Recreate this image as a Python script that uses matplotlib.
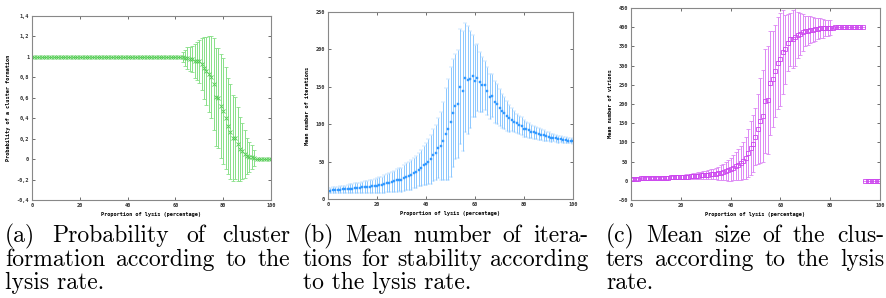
import matplotlib
matplotlib.use("Agg")
import matplotlib.pyplot as plt
import numpy as np
from matplotlib.ticker import FuncFormatter

# ---------------- data ----------------
x_a = list(range(0, 101))
mean_a = [1.0, 1.0, 1.0, 1.0, 1.0, 1.0, 1.0, 1.0, 1.0, 1.0,
          1.0, 1.0, 1.0, 1.0, 1.0, 1.0, 1.0, 1.0, 1.0, 1.0,
          1.0, 1.0, 1.0, 1.0, 1.0, 1.0, 1.0, 1.0, 1.0, 1.0,
          1.0, 1.0, 1.0, 1.0, 1.0, 1.0, 1.0, 1.0, 1.0, 1.0,
          1.0, 1.0, 1.0, 1.0, 1.0, 1.0, 1.0, 1.0, 1.0, 1.0,
          1.0, 1.0, 1.0, 1.0, 1.0, 1.0, 1.0, 1.0, 1.0, 1.0,
          1.0, 1.0, 1.0,
          1.0, 0.99, 0.99, 0.98, 0.98, 0.96, 0.96, 0.955, 0.93, 0.89,
          0.86, 0.83, 0.80, 0.73, 0.61, 0.60, 0.52, 0.47, 0.40, 0.32,
          0.27, 0.21, 0.21, 0.15, 0.10, 0.08, 0.05, 0.03, 0.02, 0.02,
          0.01,
          0.0, 0.0, 0.0, 0.0, 0.0, 0.0, 0.0]
err_a = [0.0, 0.0, 0.0, 0.0, 0.0, 0.0, 0.0, 0.0, 0.0, 0.0,
         0.0, 0.0, 0.0, 0.0, 0.0, 0.0, 0.0, 0.0, 0.0, 0.0,
         0.0, 0.0, 0.0, 0.0, 0.0, 0.0, 0.0, 0.0, 0.0, 0.0,
         0.0, 0.0, 0.0, 0.0, 0.0, 0.0, 0.0, 0.0, 0.0, 0.0,
         0.0, 0.0, 0.0, 0.0, 0.0, 0.0, 0.0, 0.0, 0.0, 0.0,
         0.0, 0.0, 0.0, 0.0, 0.0, 0.0, 0.0, 0.0, 0.0, 0.0,
         0.0, 0.0, 0.0,
         0.05, 0.08, 0.11, 0.12, 0.13, 0.17, 0.19, 0.21, 0.25, 0.30,
         0.33, 0.37, 0.40, 0.45, 0.48, 0.49, 0.51, 0.52, 0.50, 0.47,
         0.46, 0.42, 0.40, 0.36, 0.31, 0.27, 0.23, 0.18, 0.15, 0.12,
         0.08,
         0.0, 0.0, 0.0, 0.0, 0.0, 0.0, 0.0]

x_b = list(range(0, 101))
mean_b = [11, 11, 11.5, 12, 12, 12.5, 13, 13, 13.5, 14,
          14, 14.5, 15, 15, 15.5, 16, 16, 16.5, 17, 17.5,
          18, 18.5, 19, 20, 21, 22, 23, 24, 25, 26,
          26, 28, 30, 31, 32, 35, 36, 39, 42, 45,
          47, 50, 53, 59, 62, 68, 71, 78, 87, 93,
          103, 115, 124, 127, 150, 144, 162, 159, 160, 164,
          158, 162, 156, 153, 152, 144, 137, 138, 130, 127,
          122, 118, 115, 111, 108, 106, 103, 101, 99, 97,
          94, 93, 92, 90, 89, 88, 87, 86, 85, 84,
          83, 82, 82, 81, 80, 80, 79, 79, 78, 78,
          77]
err_b = [3.5, 3.5, 4, 4, 4.5, 4.5, 5, 5, 5.5, 6,
         6, 6.5, 7, 7, 7.5, 8, 8, 8.5, 9, 9.5,
         10, 10.5, 11, 12, 12, 13, 13, 14, 15, 15,
         16, 17, 18, 19, 20, 20, 21, 22, 24, 26,
         28, 30, 33, 35, 37, 40, 45, 52, 62, 68,
         74, 72, 70, 72, 77, 80, 73, 72, 65, 55,
         48, 45, 40, 37, 33, 32, 30, 29, 28, 27,
         25, 23, 21, 20, 18, 15, 14, 13, 12, 12,
         11, 10, 10, 9, 9, 8, 8, 7, 7, 6,
         6, 5.5, 5, 5, 4.5, 4, 4, 3.5, 3.5, 3,
         3]

x_c = list(range(0, 101))
mean_c = [5, 5, 5, 5, 6, 6, 6, 6, 7, 7,
          7, 7, 8, 8, 8, 8, 9, 9, 9, 9,
          10, 10, 11, 11, 12, 12, 13, 13, 14, 15,
          15, 16, 17, 18, 19, 20, 21, 23, 25, 27,
          30, 34, 38, 42, 46, 52, 60, 72, 85, 97,
          115, 135, 157, 168, 207, 211, 255, 265, 285, 307,
          316, 335, 342, 360, 368, 370, 375, 380, 383, 387,
          390, 391, 393, 394, 395, 396, 397, 397, 398, 398,
          399, 399, 400, 400, 400, 400, 400, 400, 400, 400,
          400, 400, 400, 400,
          0, 0, 0, 0, 0, 0, 0]
err_c = [2, 2, 2, 2, 2, 3, 3, 3, 3, 3,
         3, 3, 3, 4, 4, 4, 4, 4, 5, 5,
         5, 6, 6, 7, 7, 8, 8, 9, 10, 10,
         11, 12, 13, 14, 15, 17, 19, 21, 24, 27,
         30, 33, 36, 40, 44, 48, 55, 62, 70, 75,
         75, 90, 110, 120, 135, 140, 135, 125, 120, 120,
         120, 110, 90, 75, 70, 75, 75, 60, 55, 48,
         40, 38, 35, 33, 30, 28, 26, 24, 22, 21,
         20, 0, 0, 0, 0, 0, 0, 0, 0, 0,
         0, 0, 0, 0,
         0, 0, 0, 0, 0, 0, 0]

xlabel_txt = "Proportion of lysis (percentage)"
ylabels = ["Probability of a cluster formation", "Mean number of iterations",
           "Mean number of virions"]
yticks_a = [-0.4, -0.2, 0, 0.2, 0.4, 0.6, 0.8, 1.0, 1.2, 1.4]
yticks_b = [0, 50, 100, 150, 200, 250]
yticks_c = [-50, 0, 50, 100, 150, 200, 250, 300, 350, 400, 450]
xticks = [0, 20, 40, 60, 80, 100]

captions = [
    ["(a) Probability of cluster", "formation according to the", "lysis rate."],
    ["(b) Mean number of itera-", "tions for stability according", "to the lysis rate."],
    ["(c) Mean size of the clus-", "ters according to the lysis", "rate."],
]

# ---------------- figure ----------------
W, H = 887, 298
fig = plt.figure(figsize=(W / 100, H / 100), dpi=100)


def rect(l, r, t, b):
    return [l / W, 1 - b / H, (r - l) / W, (b - t) / H]


def style(ax, yticks, ylabel, fmt=None):
    ax.set_xlim(0, 100)
    ax.set_xticks(xticks)
    ax.set_yticks(yticks)
    ax.set_ylim(yticks[0], yticks[-1])
    ax.tick_params(direction="in", length=2, width=0.5, top=True, right=True,
                   pad=2, colors="#333333")
    for lab in ax.get_xticklabels() + ax.get_yticklabels():
        lab.set_fontfamily("DejaVu Sans Mono")
        lab.set_fontsize(3.8)
        lab.set_fontweight("bold")
    if fmt is not None:
        ax.yaxis.set_major_formatter(FuncFormatter(fmt))
    for s in ax.spines.values():
        s.set_color("#888888")
        s.set_linewidth(0.8)
    ax.set_xlabel(xlabel_txt, fontfamily="DejaVu Sans Mono", fontsize=3.8,
                  fontweight="bold", labelpad=3)
    ax.set_ylabel(ylabel, fontfamily="DejaVu Sans Mono", fontsize=3.8,
                  fontweight="bold", labelpad=4)


def fmt_a(v, pos):
    if abs(v - round(v)) < 1e-9:
        return "%d" % round(v)
    return ("%.1f" % v).replace(".", ",")


# (a)
ax1 = fig.add_axes(rect(32, 271, 16, 200))
ax1.errorbar(x_a, mean_a, yerr=err_a, fmt="x", color="#55cc55", ms=2.5, mew=0.6,
             ecolor="#88e088", elinewidth=0.7, capsize=1.5, capthick=0.6)
style(ax1, yticks_a, ylabels[0], fmt_a)

# (b)
ax2 = fig.add_axes(rect(328, 573, 12, 199))
ax2.errorbar(x_b, mean_b, yerr=err_b, fmt="s", color="#3399ff", ms=1.8, mew=0.3,
             ecolor="#8cc8ff", elinewidth=0.7, capsize=1.5, capthick=0.6)
style(ax2, yticks_b, ylabels[1])

# (c)
ax3 = fig.add_axes(rect(631, 880, 8, 200))
ax3.errorbar(x_c, mean_c, yerr=err_c, fmt="s", color="#cc44ee", ms=2.6,
             mfc="none", mew=0.6, ecolor="#dd88f5", elinewidth=0.7,
             capsize=1.5, capthick=0.6)
style(ax3, yticks_c, ylabels[2])

# captions (justified first two lines, like the LaTeX subcaptions)
cap_x = [5, 303, 606]
cap_r = [290, 588, 884]
cap_y = [236, 260, 283]
cap_font = dict(family="cmr10", size=17)
fig.canvas.draw()
renderer = fig.canvas.get_renderer()
for cx, cr, lines in zip(cap_x, cap_r, captions):
    for i, (cy, line) in enumerate(zip(cap_y, lines)):
        words = line.split(" ")
        if i == len(lines) - 1:
            fig.text(cx / W, 1 - cy / H, line, fontfamily=cap_font["family"],
                     fontsize=cap_font["size"], va="center", ha="left")
            continue
        arts = [fig.text(0, 1 - cy / H, w, fontfamily=cap_font["family"],
                         fontsize=cap_font["size"], va="center", ha="left")
                for w in words]
        widths = [a.get_window_extent(renderer).width for a in arts]
        gap = ((cr - cx) - sum(widths)) / max(len(words) - 1, 1)
        pos = cx
        for a, wd in zip(arts, widths):
            a.set_x(pos / W)
            pos += wd + gap

fig.savefig("out.png", dpi=100)
